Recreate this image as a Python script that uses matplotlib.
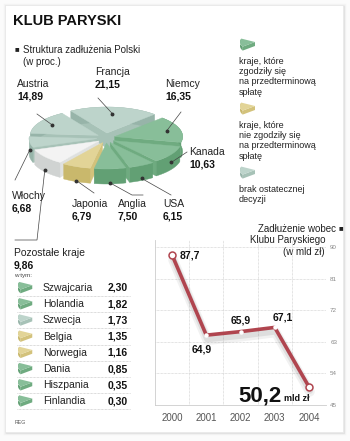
import numpy as np
import matplotlib
matplotlib.use('Agg')
import matplotlib.pyplot as plt
from matplotlib.patches import Polygon, Rectangle
import matplotlib.transforms as mtrans

# pie: structure of Polish debt (percent)
pie_labels = ['Francja', 'Niemcy', 'Kanada', 'USA', 'Anglia', 'Japonia', 'Pozostałe kraje', 'Włochy', 'Austria']
pie_values = [21.15, 16.35, 10.63, 6.15, 7.50, 6.79, 9.86, 6.68, 14.89]
pie_groups = ['none', 'yes', 'yes', 'yes', 'yes', 'no', 'rest', 'none', 'none']

# other countries
other_names = ['Szwajcaria', 'Holandia', 'Szwecja', 'Belgia', 'Norwegia', 'Dania', 'Hiszpania', 'Finlandia']
other_values = [2.30, 1.82, 1.73, 1.35, 1.16, 0.85, 0.35, 0.30]
other_groups = ['yes', 'yes', 'none', 'no', 'no', 'yes', 'yes', 'yes']

# debt to the Paris Club (bln zl)
years = [2000, 2001, 2002, 2003, 2004]
debt = [87.7, 64.9, 65.9, 67.1, 50.2]
yticks = [45, 54, 63, 72, 81, 90]

colors = {
    'yes': ('#88be99', '#62a074', '#6fab80'),
    'no': ('#e2d497', '#c9b86c', '#d3c27b'),
    'none': ('#bdd4cb', '#97b4a9', '#a7c2b7'),
    'rest': ('#f3f3f3', '#d0d3d2', '#dfe1e0'),
}
LINE = '#b0454f'
TXT = '#222222'
plt.rcParams['font.family'] = ['Liberation Sans', 'DejaVu Sans']


def fmt(v):
    return ('%.2f' % v).replace('.', ',')


def wedge3d(ax, cx, cy, rx, ry, depth, t0, t1, cols, z=1, ec=True):
    # t0 > t1, clockwise
    t = np.radians(np.linspace(t0, t1, 40))
    xs = cx + rx * np.cos(t)
    ys = cy - ry * np.sin(t)
    top, side, cut = cols
    lw = 0.3 if ec else 0
    # only the cut faces that turn to the viewer
    for k, vis in ((0, np.cos(t[0]) < 0), (-1, np.cos(t[-1]) > 0)):
        if vis:
            ax.add_patch(Polygon([(cx, cy), (xs[k], ys[k]), (xs[k], ys[k] + depth), (cx, cy + depth)],
                                 closed=True, fc=cut, ec=cut, lw=lw, zorder=z))
    sx = np.concatenate([xs, xs[::-1]])
    sy = np.concatenate([ys, ys[::-1] + depth])
    ax.add_patch(Polygon(np.column_stack([sx, sy]), closed=True, fc=side, ec=side, lw=lw, zorder=z))
    ax.add_patch(Polygon(np.column_stack([np.r_[cx, xs], np.r_[cy, ys]]), closed=True,
                         fc=top, ec=top, lw=lw, zorder=z))


fig = plt.figure(figsize=(3.5, 4.41), dpi=100)
fig.patch.set_facecolor('#fbfbfb')
bg = fig.add_axes([0, 0, 1, 1])
bg.set_xlim(0, 350)
bg.set_ylim(441, 0)
bg.axis('off')

# card with soft shadow
for i, a in enumerate([0.05, 0.07, 0.1]):
    bg.add_patch(Rectangle((5 + i * 0.6, 5 + i * 0.6), 339 - i * 0.6, 428 - i * 0.6,
                           fc='none', ec='#888888', lw=2.5 - i * 0.8, alpha=a, zorder=0))
bg.add_patch(Rectangle((5, 5), 338, 427, fc='white', ec='#e6e6e6', lw=0.5, zorder=0.1))

# title and headers
bg.text(13, 21, 'KLUB PARYSKI', fontsize=10.5, fontweight='bold', color='#111111', va='center')
bg.text(15, 50, '■', fontsize=5.5, color='#222222', va='center')
bg.text(23, 50, 'Struktura zadłużenia Polski', fontsize=7, color=TXT, va='center')
bg.text(23, 62, '(w proc.)', fontsize=7, color=TXT, va='center')

# 3d pie
cx, cy, rx, ry, depth = 106, 138, 68, 26, 15
ex, ey = 9, 5
start = 122
angles = []
a = start
for v in pie_values:
    a1 = a - v / sum(pie_values) * 360
    angles.append((a, a1))
    a = a1
order = sorted(range(len(pie_values)), key=lambda i: -np.sin(np.radians(sum(angles[i]) / 2)))
for i in order:
    a0, a1 = angles[i]
    m = np.radians((a0 + a1) / 2)
    wedge3d(bg, cx + ex * np.cos(m), cy - ey * np.sin(m), rx, ry, depth, a0, a1,
            colors[pie_groups[i]], z=2)


def anchor(i, r=0.8, dz=0.0):
    a0, a1 = angles[i]
    m = np.radians((a0 + a1) / 2)
    x = cx + ex * np.cos(m) + r * rx * np.cos(m)
    y = cy - ey * np.sin(m) - r * ry * np.sin(m) + dz
    return x, y


# label position, anchor settings, leader elbow
label_pos = {
    'Francja': (95, 72, 0.75, 0, [(98, 98)]),
    'Niemcy': (165, 84, 0.8, 0, [(181, 112)]),
    'Kanada': (189, 152, 1.0, 8, [(187, 152)]),
    'USA': (163, 204, 1.0, 13, [(171, 195)]),
    'Anglia': (118, 204, 1.0, 14, [(132, 195), (143, 195)]),
    'Japonia': (72, 204, 1.0, 14, [(94, 193)]),
    'Włochy': (12, 196, 1.0, 8, [(15, 180)]),
    'Austria': (17, 84, 0.8, 0, [(37, 114)]),
}
for i, name in enumerate(pie_labels):
    if name in label_pos:
        lx, ly, r, dz, elbow = label_pos[name]
        bg.text(lx, ly, name, fontsize=7.5, color=TXT, va='center')
        bg.text(lx, ly + 12.5, fmt(pie_values[i]), fontsize=7.5,
                fontweight='bold', color='#111111', va='center')
    else:
        r, dz, elbow = 1.0, 13, [(37, 240), (15, 240)]
    ax0, ay0 = anchor(i, r, dz)
    pts = [(ax0, ay0)] + elbow
    bg.plot([p[0] for p in pts], [p[1] for p in pts], color='#444444', lw=0.5, zorder=3)
    bg.plot(ax0, ay0, 'o', ms=1.8, color='#333333', zorder=3)


def icon(x, y, cols, s=1.0):
    # small 3d wedge used as a legend key
    wedge3d(bg, x + 15 * s, y - 3 * s, 15 * s, 8 * s, 4 * s, 215, 155, cols, z=3, ec=False)


# legend on the right
legend_items = [
    ('yes', 45, ['kraje, które', 'zgodziły się', 'na przedterminową', 'spłatę']),
    ('no', 109, ['kraje, które', 'nie zgodziły się', 'na przedterminową', 'spłatę']),
    ('none', 173, ['brak ostatecznej', 'decyzji']),
]
for g, y, lines in legend_items:
    icon(240, y, colors[g])
    for k, s in enumerate(lines):
        bg.text(239, y + 16 + k * 10.5, s, fontsize=6.5, color=TXT, va='center')

# other countries table
bg.text(14, 253, 'Pozostałe kraje', fontsize=7.5, color=TXT, va='center')
bg.text(14, 265, fmt(sum(other_values)), fontsize=7.5, fontweight='bold', color='#111111', va='center')
bg.text(14, 275, 'w tym:', fontsize=4.5, color='#444444', va='center')
for k, (n, v, g) in enumerate(zip(other_names, other_values, other_groups)):
    y = 288 + k * 16.2
    icon(18, y, colors[g], s=0.95)
    bg.text(43, y, n, fontsize=7.5, color=TXT, va='center')
    bg.text(128, y, fmt(v), fontsize=7.5, fontweight='bold', color='#111111', va='center', ha='right')
    bg.plot([17, 130], [y + 8, y + 8], color='#bbbbbb', lw=0.5, ls=(0, (1, 1)), zorder=1)
bg.text(15, 423, 'REG', fontsize=3.8, color='#555555', va='center')

# line chart header
bg.text(336, 229, 'Zadłużenie wobec', fontsize=7, color=TXT, va='center', ha='right')
bg.text(339, 229, '■', fontsize=5.5, color='#222222', va='center')
bg.text(325, 240, 'Klubu Paryskiego', fontsize=7, color=TXT, va='center', ha='right')
bg.text(325, 252, '(w mld zł)', fontsize=7, color=TXT, va='center', ha='right')

# line chart
ax = fig.add_axes([155 / 350, 1 - 405 / 441, (326 - 155) / 350, (405 - 240) / 441])
ax.patch.set_alpha(0)
ax.set_xlim(1999.5, 2004.5)
ax.set_ylim(45, 92.0)
ax.set_yticks(yticks)
ax.set_yticklabels([str(t) for t in yticks])
ax.yaxis.tick_right()
ax.set_xticks(years)
ax.set_xticks([2000.5, 2001.5, 2002.5, 2003.5], minor=True)
ax.tick_params(axis='both', which='both', length=0)
ax.tick_params(axis='y', labelsize=4.5, labelcolor='#888888', pad=3)
ax.tick_params(axis='x', labelsize=7, labelcolor='#555555', pad=6)
ax.grid(axis='y', which='major', color='#c8c8c8', lw=0.5, ls=(0, (1, 1)))
ax.grid(axis='x', which='minor', color='#c8c8c8', lw=0.5, ls=(0, (1, 1)))
for s in ['top', 'right']:
    ax.spines[s].set_visible(False)
ax.spines['left'].set_color('#cccccc')
ax.spines['left'].set_linewidth(0.6)
ax.spines['bottom'].set_color('#cccccc')
ax.spines['bottom'].set_linewidth(0.6)

for off, lw, al in [(5, 7, 0.08), (4, 4.5, 0.12)]:
    tr = mtrans.offset_copy(ax.transData, fig=fig, x=1, y=-off, units='dots')
    ax.plot(years, debt, color='#555555', lw=lw, alpha=al, transform=tr, solid_capstyle='round', zorder=2)
ax.plot(years, debt, color=LINE, lw=2.6, zorder=3, solid_joinstyle='round')
ax.plot(years[1:4], debt[1:4], 'o', ms=2.2, mfc='white', mec='white', zorder=4)
ax.plot([years[0], years[-1]], [debt[0], debt[-1]], 'o', ms=5, mfc='white', mec=LINE, mew=1.1, zorder=4)

val_txt = [('%.1f' % v).replace('.', ',') for v in debt]
offs = [(8, 0, 'left'), (-5, -14, 'center'), (0, 11, 'center'), (8, 10, 'center')]
for k in range(4):
    dx, dy, ha = offs[k]
    ax.annotate(val_txt[k], (years[k], debt[k]), xytext=(dx, dy), textcoords='offset pixels',
                fontsize=7.5, fontweight='bold', color='#111111', ha=ha, va='center', zorder=5)
ax.annotate(val_txt[4], (years[4], debt[4]), xytext=(-27, -9), textcoords='offset pixels',
            fontsize=16, fontweight='bold', color='#111111', ha='right', va='center', zorder=5)
ax.annotate('mld zł', (years[4], debt[4]), xytext=(-25, -12), textcoords='offset pixels',
            fontsize=6.5, fontweight='bold', color='#111111', ha='left', va='center', zorder=5)

fig.savefig('out.png', dpi=100, facecolor=fig.get_facecolor())
